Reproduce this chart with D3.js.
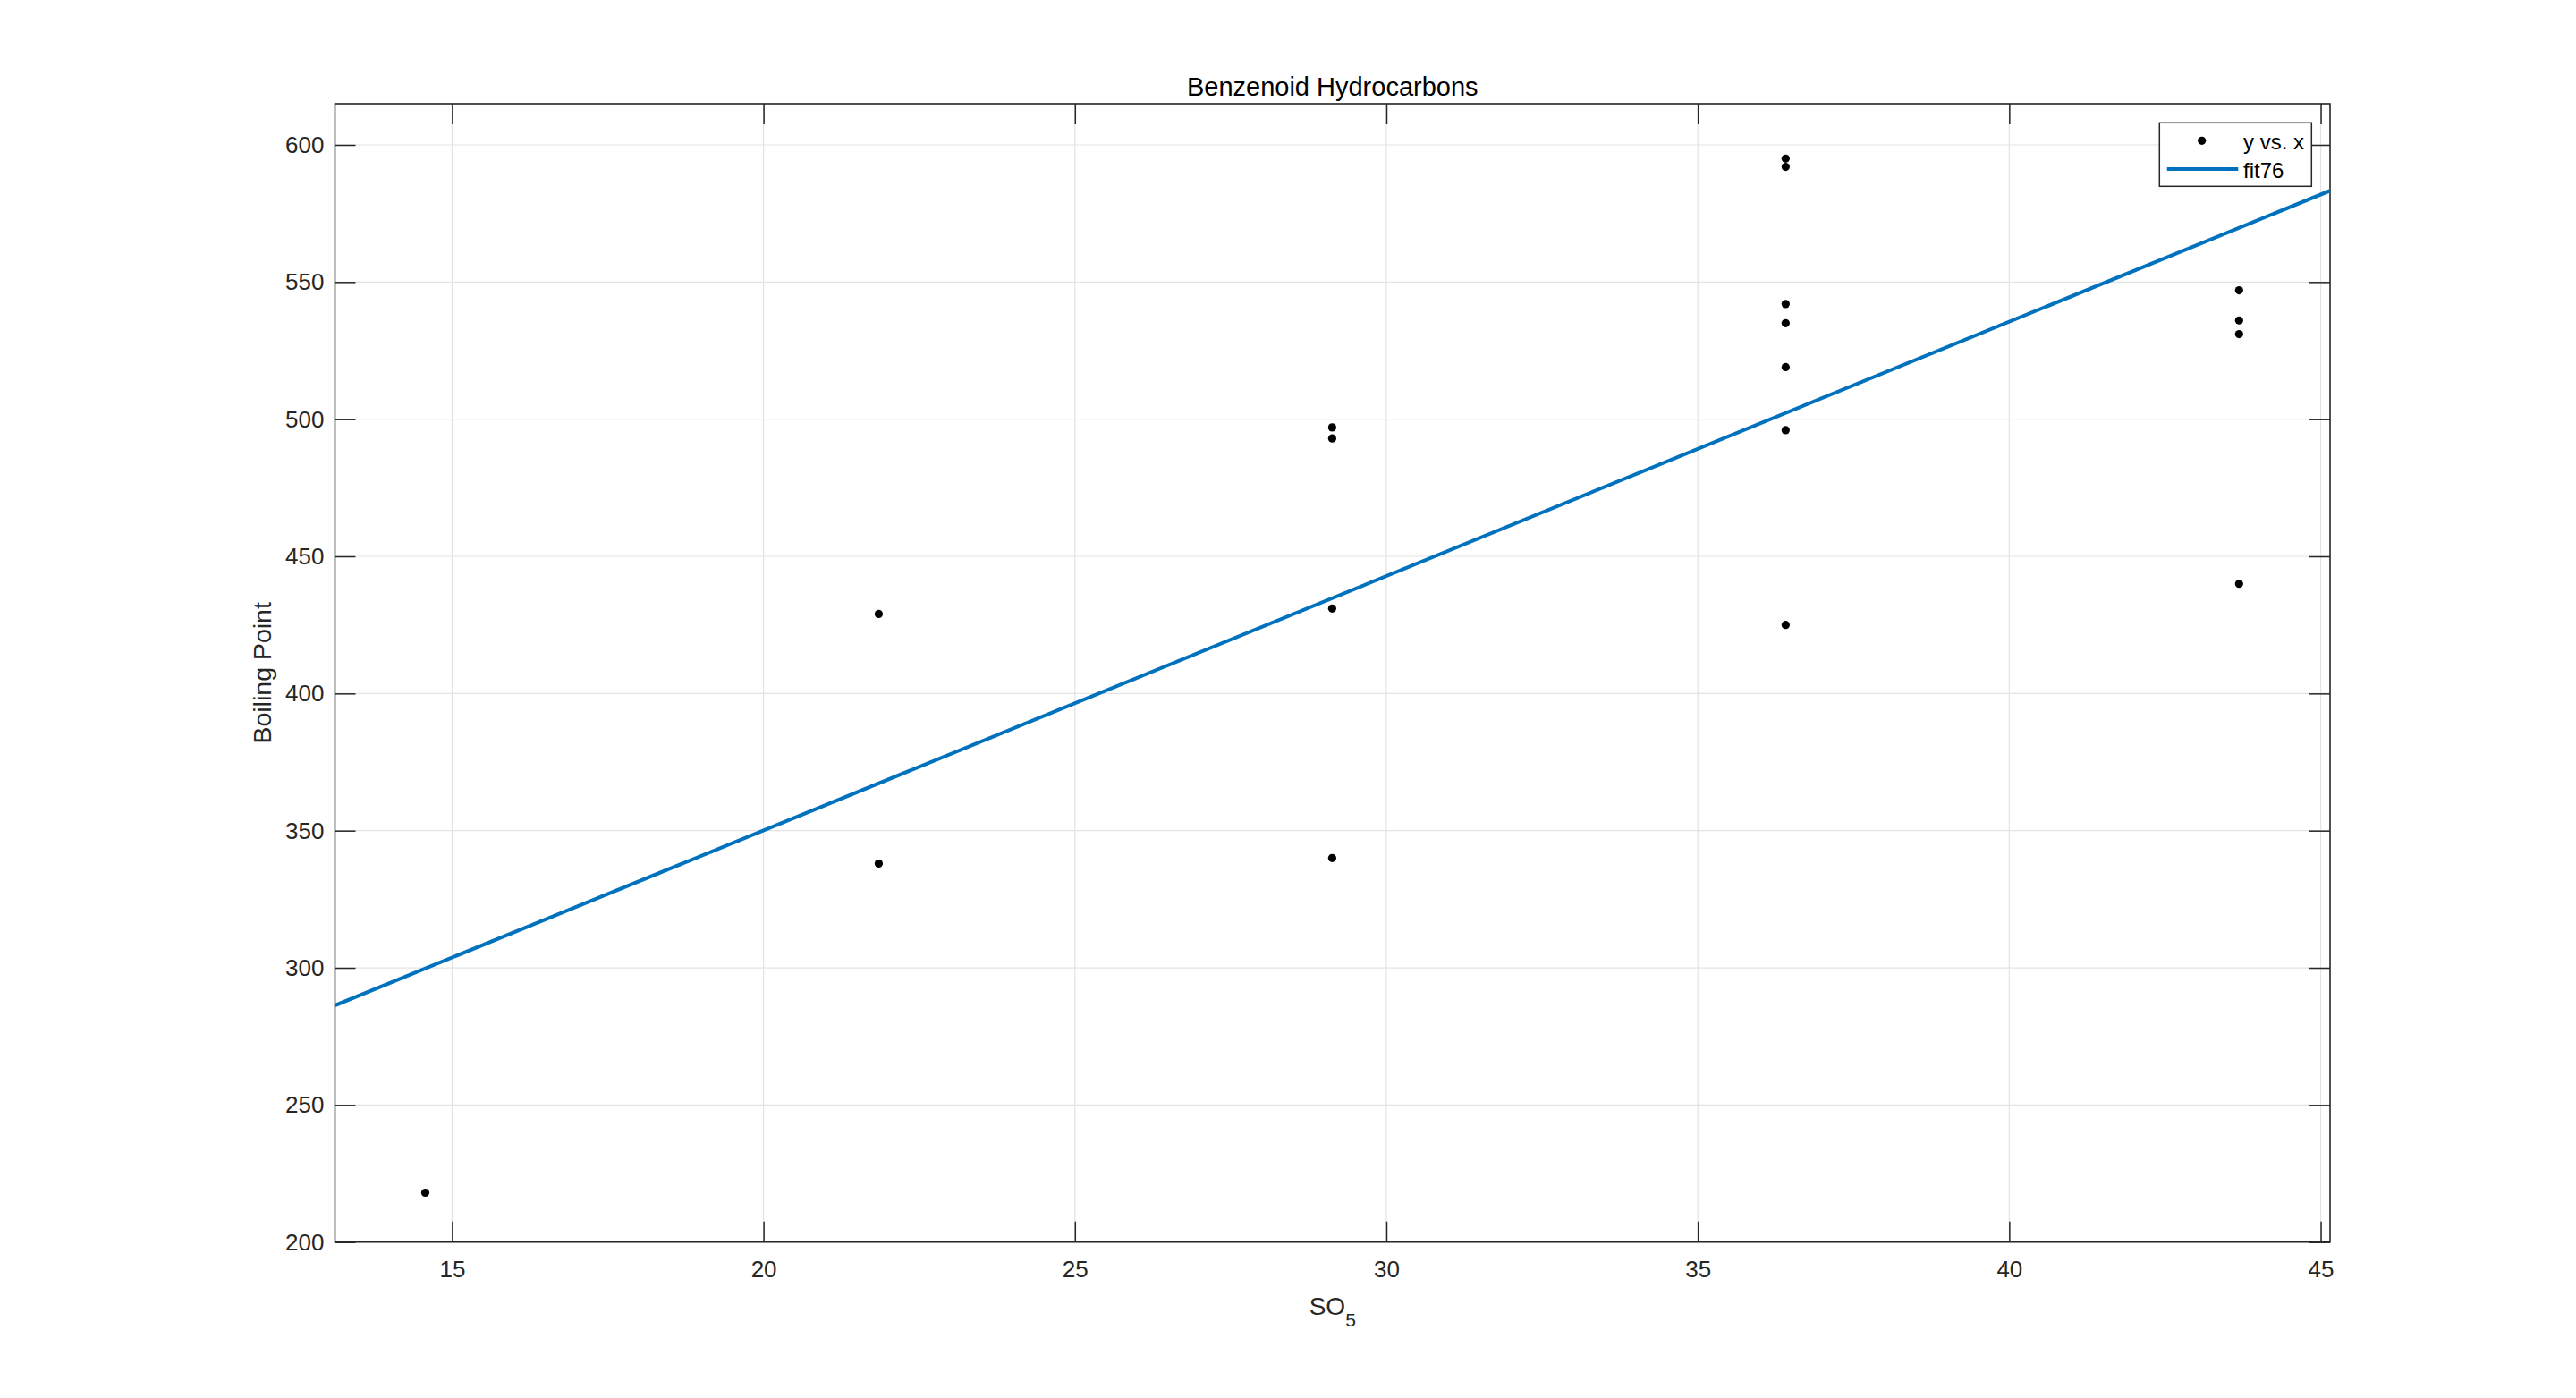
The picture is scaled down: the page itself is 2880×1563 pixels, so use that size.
<!DOCTYPE html>
<html>
<head>
<meta charset="utf-8">
<script src="https://cdnjs.cloudflare.com/ajax/libs/d3/7.8.5/d3.min.js"></script>
<style>
  html, body { margin: 0; padding: 0; background: #fff; }
  text { font-family: "Liberation Sans", Arial, sans-serif; }
</style>
</head>
<body>
<script>
// data
var so5 = [14.57, 21.85, 21.85, 29.13, 29.13, 29.13, 29.13,
           36.41, 36.41, 36.41, 36.41, 36.41, 36.41, 36.41,
           43.69, 43.69, 43.69, 43.69]
var boil = [218, 429, 338, 497, 493, 431, 340,
            595, 592, 542, 535, 519, 496, 425,
            547, 536, 531, 440]
// fit76 line, its two ends at the axes limits
var fitX = [13.12, 45.15]
var fitY = [286.3, 583.3]
var xTicks = [15, 20, 25, 30, 35, 40, 45]
var yTicks = [200, 250, 300, 350, 400, 450, 500, 550, 600]

var W = 2880, H = 1563
var L = 374.5, R = 2605, T = 116, B = 1388.7
var ink = '#262626'

var svg = d3.select('body').append('svg')
  .attr('width', W).attr('height', H)

var x = d3.scaleLinear().domain([13.12, 45.15]).range([L, R])
var y = d3.scaleLinear().domain([200, 615]).range([B, T])

svg.append('rect').attr('x', 0).attr('y', 0).attr('width', W).attr('height', H).attr('fill', '#fff')

svg.append('defs').append('clipPath').attr('id', 'clip')
  .append('rect').attr('x', L).attr('y', T).attr('width', R - L).attr('height', B - T)

// grid
var grid = svg.append('g')
grid.selectAll('.gx').data(xTicks).enter().append('line')
  .attr('x1', function (d) { return x(d) }).attr('x2', function (d) { return x(d) })
  .attr('y1', T).attr('y2', B)
  .attr('stroke', '#e3e3e3').attr('stroke-width', 1.2)
grid.selectAll('.gy').data(yTicks).enter().append('line')
  .attr('y1', function (d) { return y(d) }).attr('y2', function (d) { return y(d) })
  .attr('x1', L).attr('x2', R)
  .attr('stroke', '#e3e3e3').attr('stroke-width', 1.2)

// axes with inward ticks on all sides
var tk = 23
svg.append('g').attr('transform', 'translate(0,' + B + ')')
  .call(d3.axisBottom(x).tickValues(xTicks).tickSize(-tk).tickPadding(21))
svg.append('g').attr('transform', 'translate(0,' + T + ')')
  .call(d3.axisTop(x).tickValues(xTicks).tickSize(-tk).tickFormat(''))
svg.append('g').attr('transform', 'translate(' + L + ',0)')
  .call(d3.axisLeft(y).tickValues(yTicks).tickSize(-tk).tickPadding(12))
svg.append('g').attr('transform', 'translate(' + R + ',0)')
  .call(d3.axisRight(y).tickValues(yTicks).tickSize(-tk).tickFormat(''))

svg.selectAll('.domain').remove()
svg.selectAll('.tick line').attr('stroke', ink).attr('stroke-width', 1.5)
svg.selectAll('.tick text').attr('fill', ink).style('font-size', '26px')
  .style('font-family', '"Liberation Sans", Arial, sans-serif')

svg.append('rect').attr('x', L).attr('y', T).attr('width', R - L).attr('height', B - T)
  .attr('fill', 'none').attr('stroke', ink).attr('stroke-width', 1.6)

// fit line
svg.append('path')
  .datum(d3.zip(fitX, fitY))
  .attr('clip-path', 'url(#clip)')
  .attr('d', d3.line().x(function (d) { return x(d[0]) }).y(function (d) { return y(d[1]) }))
  .attr('fill', 'none').attr('stroke', '#0072BD').attr('stroke-width', 4)

// points
svg.append('g').selectAll('circle')
  .data(d3.zip(so5, boil))
  .enter().append('circle')
  .attr('cx', function (d) { return x(d[0]) })
  .attr('cy', function (d) { return y(d[1]) })
  .attr('r', 4.6)
  .attr('fill', '#000')

// title and labels
svg.append('text').attr('x', (L + R) / 2).attr('y', 106.5)
  .attr('text-anchor', 'middle').attr('fill', '#000').style('font-size', '29px')
  .text('Benzenoid Hydrocarbons')

var xl = svg.append('text').attr('x', (L + R) / 2).attr('y', 1470)
  .attr('text-anchor', 'middle').attr('fill', ink).style('font-size', '28px')
xl.append('tspan').text('SO')
xl.append('tspan').attr('dy', 13).style('font-size', '21px').text('5')

svg.append('text')
  .attr('transform', 'translate(303,' + ((T + B) / 2) + ') rotate(-90)')
  .attr('text-anchor', 'middle').attr('fill', ink).style('font-size', '28.5px')
  .text('Boiling Point')

// legend
var lg = svg.append('g')
lg.append('rect').attr('x', 2414.3).attr('y', 137.3).attr('width', 170).attr('height', 71)
  .attr('fill', '#fff').attr('stroke', ink).attr('stroke-width', 1.5)
lg.append('circle').attr('cx', 2461.7).attr('cy', 157.3).attr('r', 4.6).attr('fill', '#000')
lg.append('text').attr('x', 2508).attr('y', 166.5).attr('fill', '#000').style('font-size', '24px').text('y vs. x')
lg.append('line').attr('x1', 2422.7).attr('x2', 2502.3).attr('y1', 189).attr('y2', 189)
  .attr('stroke', '#0072BD').attr('stroke-width', 4)
lg.append('text').attr('x', 2508).attr('y', 198.5).attr('fill', '#000').style('font-size', '24px').text('fit76')
</script>
</body>
</html>
